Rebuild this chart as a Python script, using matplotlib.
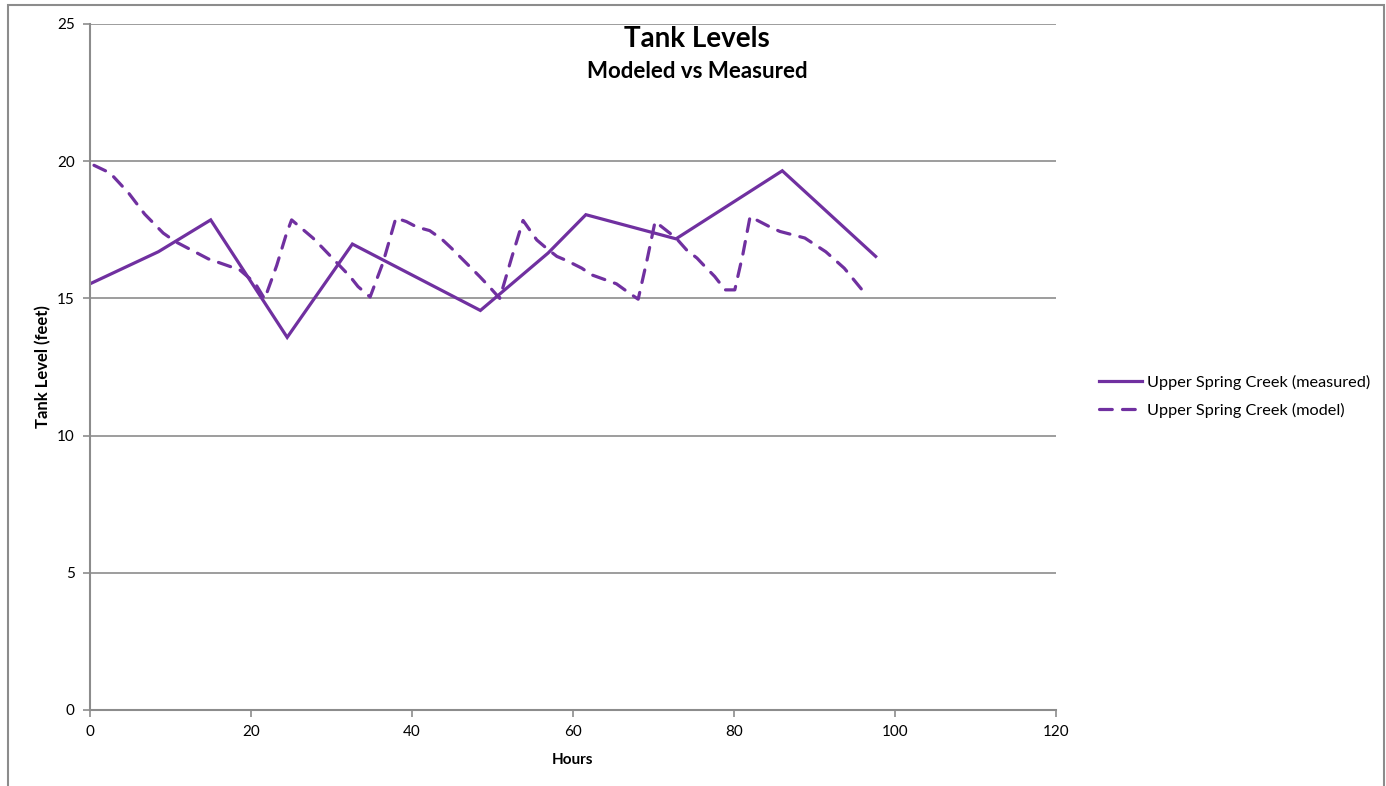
import matplotlib
matplotlib.use("Agg")
import matplotlib.pyplot as plt
from matplotlib.patches import Rectangle

plt.rcParams['font.family'] = ['Lato', 'DejaVu Sans']

# measured tank level (feet) vs hours
measured_hours = [0, 8.5, 15.0, 24.5, 32.6, 48.5, 56.9, 61.6, 72.8, 86.0, 97.6]
measured_level = [15.53, 16.7, 17.86, 13.58, 16.98, 14.56, 16.65, 18.05, 17.17, 19.65, 16.53]

# model output
model_hours = [0.5, 2.5, 4.8, 6.8, 8.1, 9.1, 10.6, 14.7, 18.6, 20.5, 21.7,
               23.2, 24.4, 25.05, 27.7, 28.9, 32.3, 33.3, 34.8, 36.4, 38.0,
               39.3, 40.6, 42.2, 43.7, 44.9, 48.4, 49.5, 50.9, 52.4, 53.8,
               55.5, 56.7, 58.0, 59.2, 61.1, 62.3, 64.0, 65.4, 67.1, 68.1,
               69.2, 70.2, 72.8, 74.1, 75.4, 76.4, 77.6, 78.9, 80.1, 81.1,
               82.0, 84.5, 85.7, 88.8, 91.4, 93.7, 96.5]
model_level = [19.85, 19.57, 18.84, 18.07, 17.68, 17.38, 17.07, 16.44, 16.04, 15.56, 14.98,
               16.2, 17.35, 17.86, 17.2, 16.84, 15.8, 15.43, 15.05, 16.3, 17.93,
               17.8, 17.6, 17.47, 17.16, 16.83, 15.8, 15.46, 15.0, 16.5, 17.84,
               17.13, 16.83, 16.53, 16.38, 16.1, 15.86, 15.68, 15.53, 15.17, 14.97,
               16.4, 17.8, 17.2, 16.77, 16.47, 16.16, 15.8, 15.31, 15.31, 16.6,
               17.98, 17.6, 17.44, 17.2, 16.7, 16.1, 15.1]

x_ticks = [0, 20, 40, 60, 80, 100, 120]
y_ticks = [0, 5, 10, 15, 20, 25]

purple = '#7030A0'
grey = '#8c8c8c'

fig = plt.figure(figsize=(13.86, 7.86), dpi=100)
ax = fig.add_axes([0.0649, 0.0967, 0.6970, 0.8728])

# outer chart border
fig.patches.append(Rectangle((8 / 1386, -0.05), 1376 / 1386, 1.05 - 5 / 786,
                             transform=fig.transFigure, fill=False,
                             edgecolor=grey, linewidth=1.5))

ax.plot(measured_hours, measured_level, color=purple, linewidth=2.3,
        solid_joinstyle='miter', label='Upper Spring Creek (measured)')
ax.plot(model_hours, model_level, color=purple, linewidth=2.3,
        linestyle=(0, (4.0, 3.2)), dash_capstyle='round',
        label='Upper Spring Creek (model)')

ax.set_xlim(0, 120)
ax.set_ylim(0, 25)
ax.set_xticks(x_ticks)
ax.set_yticks(y_ticks)
ax.yaxis.grid(True, color=grey, linewidth=1.2)
ax.set_axisbelow(True)
for side in ['top', 'right']:
    ax.spines[side].set_visible(False)
for side in ['left', 'bottom']:
    ax.spines[side].set_color(grey)
    ax.spines[side].set_linewidth(1.5)
ax.tick_params(axis='both', colors=grey, labelcolor='black', labelsize=11,
               length=5, width=1.2, pad=6)

ax.set_xlabel('Hours', fontsize=11, fontweight='bold', labelpad=10)
ax.set_ylabel('Tank Level (feet)', fontsize=12, fontweight='bold', labelpad=4)

fig.text(697 / 1386, 1 - 39 / 786, 'Tank Levels', ha='center', va='center',
         fontsize=20, fontweight='bold')
fig.text(697 / 1386, 1 - 72 / 786, 'Modeled vs Measured', ha='center', va='center',
         fontsize=16, fontweight='bold')

ax.legend(loc='center left', bbox_to_anchor=(1.029, 0.457), frameon=False,
          fontsize=11.7, handlelength=2.65, handletextpad=0.3, labelspacing=0.8)

fig.savefig('out.png', dpi=100)
